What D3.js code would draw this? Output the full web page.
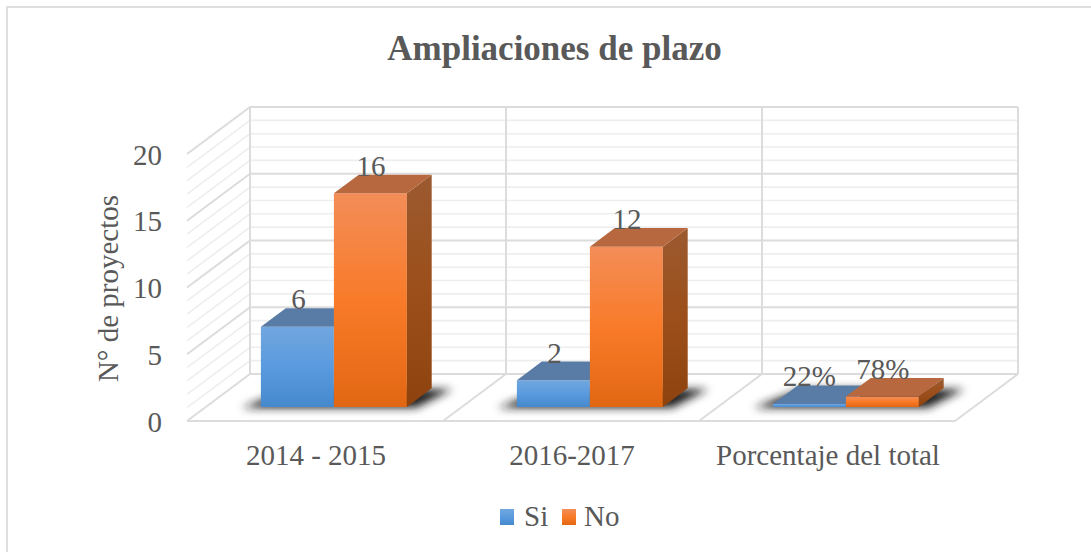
<!DOCTYPE html>
<html><head><meta charset="utf-8">
<script src="https://cdn.jsdelivr.net/npm/d3@7/dist/d3.min.js"></script>
<style>html,body{margin:0;padding:0;background:#fff}svg{display:block}text{font-family:"Liberation Serif",serif;fill:#595959}</style>
</head><body><svg id="c" width="1091" height="552"></svg>
<script>
const title = "Ampliaciones de plazo";
const yAxisTitle = "N° de proyectos";
const categories = ["2014 - 2015", "2016-2017", "Porcentaje del total"];
const seriesNames = ["Si", "No"];
const siValues = [6, 2, 0.22];
const noValues = [16, 12, 0.78];
const siLabels = ["6", "2", "22%"];
const noLabels = ["16", "12", "78%"];
const yTicks = [0, 5, 10, 15, 20];
const minorTicks = d3.range(0, 21);

const svg = d3.select("#c");
const x = d3.scaleLinear().domain([0, 3]).range([187, 955]);
const y = d3.scaleLinear().domain([0, 20]).range([0, 267]);
const z = d3.scaleLinear().domain([0, 1]).range([0, 1]);
const depthX = 63, depthY = 47, floorY = 421;
const px = (c, d) => x(c) + z(d) * depthX;
const py = (v, d) => floorY - z(d) * depthY - y(v);
const P = (c, v, d) => [px(c, d), py(v, d)];
const poly = pts => "M" + pts.map(p => p.map(n => n.toFixed(1)).join(",")).join("L") + "Z";
const line = (a, b) => "M" + a.join(",") + "L" + b.join(",");

const defs = svg.append("defs");
function grad(id, stops, x2 = 0, y2 = 1) {
  const g = defs.append("linearGradient").attr("id", id).attr("x1", 0).attr("y1", 0).attr("x2", x2).attr("y2", y2);
  stops.forEach(([o, c]) => g.append("stop").attr("offset", o).attr("stop-color", c));
}
grad("siF", [[0, "#71a7df"], [0.5, "#5a9ade"], [1, "#4589cc"]]);
grad("noF", [[0, "#f38d58"], [0.5, "#f97b29"], [1, "#e26713"]]);
grad("noS", [[0, "#9b5a30"], [0.5, "#9c4f1a"], [1, "#8e430e"]]);
defs.append("filter").attr("id", "blur").attr("x", "-30%").attr("y", "-60%").attr("width", "160%").attr("height", "220%")
  .append("feGaussianBlur").attr("stdDeviation", 4);

// chart frame
svg.append("path").attr("d", "M7,552V7H1091").attr("fill", "none").attr("stroke", "#dedede").attr("stroke-width", 2);

// title
svg.append("text").attr("x", 554.5).attr("y", 60).attr("text-anchor", "middle").attr("font-size", 35).attr("font-weight", "bold").text(title);

// gridlines
const grid = svg.append("g").attr("fill", "none");
minorTicks.forEach(v => {
  const major = v % 5 === 0;
  const col = major ? "#dcdcdc" : "#eeeeee", w = major ? 2 : 1.6;
  if (v > 0) grid.append("path").attr("d", line(P(0, v, 0), P(0, v, 1))).attr("stroke", col).attr("stroke-width", w);
  grid.append("path").attr("d", line(P(0, v, 1), P(3, v, 1))).attr("stroke", col).attr("stroke-width", w);
});
[0, 1, 2, 3].forEach(c => {
  grid.append("path").attr("d", line(P(c, 0, 1), P(c, 20, 1))).attr("stroke", "#dcdcdc").attr("stroke-width", 2);
  grid.append("path").attr("d", line(P(c, 0, 0), P(c, 0, 1))).attr("stroke", "#dcdcdc").attr("stroke-width", 2);
});
grid.append("path").attr("d", line(P(0, 0, 0), P(3, 0, 0))).attr("stroke", "#dcdcdc").attr("stroke-width", 2);

// bars
const d0 = 0.3, d1 = 0.695, half = 0.285;
const bars = svg.append("g");
const shadowG = bars.append("g").attr("filter", "url(#blur)");
categories.forEach((c, i) => {
  const cx = i + 0.5;
  shadowG.append("path").attr("d", poly([
    P(cx - half - 0.07, 0, d0 - 0.02), P(cx + half + 0.04, 0, d0 - 0.02), P(cx + half + 0.085, 0, d1 - 0.02), P(cx - half + 0.02, 0, d1 - 0.02)
  ])).attr("fill", "#1a1a1a");
});
function bar(i, from, to, v, fillF, top, side) {
  const cx = i + 0.5;
  const a = cx + from, b = cx + to;
  bars.append("path").attr("d", poly([P(a, 0, d0), P(b, 0, d0), P(b, v, d0), P(a, v, d0)])).attr("fill", `url(#${fillF})`);
  bars.append("path").attr("d", poly([P(b, 0, d0), P(b, 0, d1), P(b, v, d1), P(b, v, d0)])).attr("fill", `url(#${side})`);
  bars.append("path").attr("d", poly([P(a, v, d0), P(b, v, d0), P(b, v, d1), P(a, v, d1)])).attr("fill", top);
}
categories.forEach((c, i) => {
  bar(i, -half, 0, siValues[i], "siF", "#587ca5", "siF");
  bar(i, 0, half, noValues[i], "noF", "#b7683f", "noS");
});

// data labels
const lab = svg.append("g").attr("font-size", 29).attr("text-anchor", "middle");
categories.forEach((c, i) => {
  const cx = i + 0.5;
  lab.append("text").attr("x", px(cx - half / 2, d0) + (i === 2 ? 0 : 1)).attr("y", py(siValues[i], d1) + 1).text(siLabels[i]);
  lab.append("text").attr("x", px(cx + half / 2, d0) + 0.5).attr("y", py(noValues[i], d1) + 1).text(noLabels[i]);
});

// y axis
svg.append("g").attr("font-size", 29).attr("text-anchor", "end").selectAll("text").data(yTicks).join("text")
  .attr("x", 162).attr("y", d => py(d, 0) + 10.5).text(d => d);
svg.append("text").attr("transform", "translate(118,288.5) rotate(-90)").attr("text-anchor", "middle").attr("font-size", 29).text(yAxisTitle);

// category labels
svg.append("g").attr("font-size", 29).attr("text-anchor", "middle").selectAll("text").data(categories).join("text")
  .attr("x", (d, i) => x(i + 0.5) + 1).attr("y", 465).text(d => d);

// legend
const legend = svg.append("g");
[["siF", 500, 524], ["noF", 562, 584]].forEach(([f, sx, tx], i) => {
  legend.append("rect").attr("x", sx).attr("y", 509).attr("width", 14).attr("height", 16).attr("fill", `url(#${f})`);
  legend.append("text").attr("x", tx).attr("y", 526).attr("font-size", 29).text(seriesNames[i]);
});
</script></body></html>
